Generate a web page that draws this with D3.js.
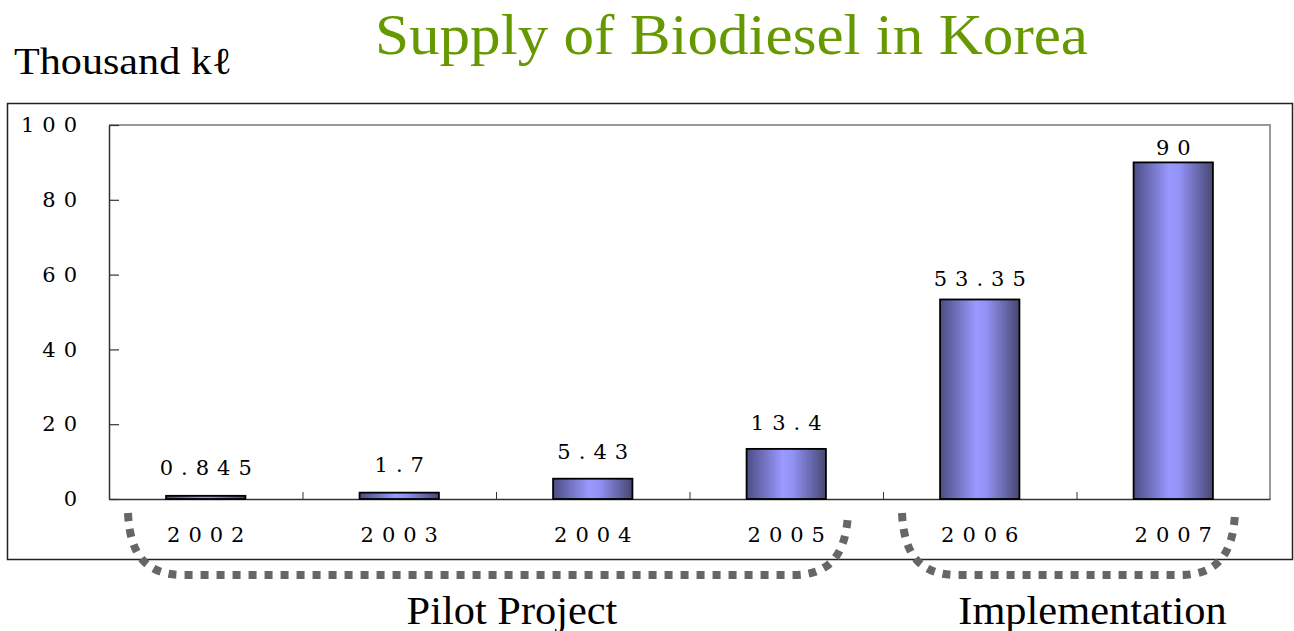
<!DOCTYPE html>
<html>
<head>
<meta charset="utf-8">
<script src="https://cdn.jsdelivr.net/npm/d3@7"></script>
<style>
  body { margin: 0; background: #fff; }
  svg { display: block; }
</style>
</head>
<body>
<script>
// data
var years = ["2002", "2003", "2004", "2005", "2006", "2007"];
var supply = [0.845, 1.7, 5.43, 13.4, 53.35, 90];
var valueLabels = ["0.845", "1.7", "5.43", "13.4", "53.35", "90"];
var yTicks = [0, 20, 40, 60, 80, 100];
var phases = [
  { name: "Pilot Project", from: "2002", to: "2005" },
  { name: "Implementation", from: "2006", to: "2007" }
];

var W = 1294, H = 631;
var plotL = 109, plotR = 1270, plotT = 125, plotB = 499;
var serif = "'Liberation Serif', 'DejaVu Serif', serif";
var numFont = "'DejaVu Serif', 'Liberation Serif', serif";
var numSize = "21px";
var ls = 8; // wide digit spacing

var svg = d3.select("body").append("svg")
  .attr("width", W)
  .attr("height", H);

// gradient for the bars
var grad = svg.append("defs").append("linearGradient")
  .attr("id", "barGrad")
  .attr("x1", "0%").attr("x2", "100%")
  .attr("y1", "0%").attr("y2", "0%");
grad.append("stop").attr("offset", "0%").attr("stop-color", "#4c4c84");
grad.append("stop").attr("offset", "45%").attr("stop-color", "#9999ff");
grad.append("stop").attr("offset", "58%").attr("stop-color", "#9292f6");
grad.append("stop").attr("offset", "100%").attr("stop-color", "#474772");

// title + unit
svg.append("text")
  .attr("x", 375).attr("y", 54)
  .attr("textLength", 713)
  .attr("lengthAdjust", "spacingAndGlyphs")
  .style("font-family", serif)
  .style("font-size", "58px")
  .attr("fill", "#669900")
  .text("Supply of Biodiesel in Korea");

svg.append("text")
  .attr("x", 14).attr("y", 74)
  .attr("textLength", 218)
  .attr("lengthAdjust", "spacingAndGlyphs")
  .style("font-family", serif)
  .style("font-size", "38px")
  .attr("fill", "#000")
  .text("Thousand k\u2113");

// outer frame
svg.append("rect")
  .attr("x", 7.5).attr("y", 103.5)
  .attr("width", 1285).attr("height", 456)
  .attr("fill", "none")
  .attr("stroke", "#222")
  .attr("stroke-width", 1.5);

// scales
var x = d3.scaleBand().domain(years).range([plotL, plotR]).padding(0);
var xb = d3.scaleLinear().domain([0, years.length]).range([plotL, plotR]);
var y = d3.scaleLinear().domain([0, 100]).range([plotB, plotT]);

// plot frame: top and right gray
svg.append("path")
  .attr("d", "M" + plotL + "," + plotT + "H" + plotR + "V" + plotB)
  .attr("fill", "none")
  .attr("stroke", "#999")
  .attr("stroke-width", 2);

// y axis
var yAxis = svg.append("g")
  .attr("transform", "translate(" + plotL + ",0)")
  .call(d3.axisLeft(y).tickValues(yTicks).tickSizeInner(-10).tickSizeOuter(0).tickPadding(32));
yAxis.select(".domain").attr("stroke", "#333").attr("stroke-width", 1.5);
yAxis.selectAll(".tick line").attr("stroke", "#333").attr("stroke-width", 1.2);
yAxis.selectAll("text")
  .style("font-family", numFont)
  .style("font-size", numSize)
  .style("letter-spacing", ls + "px")
  .attr("dx", ls)
  .attr("fill", "#000");

// x axis: boundary ticks
var xTickAxis = svg.append("g")
  .attr("transform", "translate(0," + plotB + ")")
  .call(d3.axisBottom(xb).tickValues(d3.range(1, years.length)).tickSizeInner(-7).tickSizeOuter(0).tickFormat(""));
xTickAxis.select(".domain").attr("stroke", "#333").attr("stroke-width", 1.5);
xTickAxis.selectAll(".tick line").attr("stroke", "#333");

// x axis: year labels
var xAxis = svg.append("g")
  .attr("transform", "translate(0," + plotB + ")")
  .call(d3.axisBottom(x).tickSize(0).tickPadding(28));
xAxis.select(".domain").remove();
xAxis.selectAll("text")
  .style("font-family", numFont)
  .style("font-size", numSize)
  .style("letter-spacing", ls + "px")
  .attr("dx", ls / 2)
  .attr("fill", "#000");

// bars
var barW = x.bandwidth() * 0.41;
svg.selectAll("rect.bar")
  .data(supply)
  .enter().append("rect")
  .attr("class", "bar")
  .attr("x", function (d, i) { return x(years[i]) + (x.bandwidth() - barW) / 2; })
  .attr("y", function (d) { return y(d); })
  .attr("width", barW)
  .attr("height", function (d) { return plotB - y(d); })
  .attr("fill", "url(#barGrad)")
  .attr("stroke", "#000")
  .attr("stroke-width", 1.8);

// value labels
svg.selectAll("text.val")
  .data(supply)
  .enter().append("text")
  .attr("class", "val")
  .attr("x", function (d, i) { return x(years[i]) + x.bandwidth() / 2 + ls / 2; })
  .attr("y", function (d) { return y(d) - (21 - d * 0.15); })
  .attr("text-anchor", "middle")
  .style("font-family", numFont)
  .style("font-size", numSize)
  .style("letter-spacing", ls + "px")
  .attr("fill", "#000")
  .text(function (d, i) { return valueLabels[i]; });

// phase brackets (dotted)
var bracketY = 575;
phases.forEach(function (p) {
  var x0 = x(p.from) + 19, x1 = x(p.to) + x.bandwidth() - 35;
  var top0 = 513;
  var path = "M" + x0 + "," + top0 +
    "C" + (x0 + 2) + "," + (bracketY - 18) + " " + (x0 + 20) + "," + bracketY + " " + (x0 + 55) + "," + bracketY +
    "L" + (x1 - 55) + "," + bracketY +
    "C" + (x1 - 20) + "," + bracketY + " " + (x1 - 2) + "," + (bracketY - 18) + " " + x1 + "," + top0;
  svg.append("path")
    .attr("d", path)
    .attr("fill", "none")
    .attr("stroke", "#666")
    .attr("stroke-width", 8)
    .attr("stroke-dasharray", "8,8");

  var mid = (x(p.from) + x(p.to) + x.bandwidth()) / 2;
  var label = svg.append("text")
    .attr("y", 624)
    .style("font-family", serif)
    .style("font-size", "40px")
    .attr("fill", "#000")
    .text(p.name);
  var w = label.node().getComputedTextLength() * 1.06;
  label.attr("x", mid + 16 - w / 2)
    .attr("textLength", w)
    .attr("lengthAdjust", "spacingAndGlyphs");
});
</script>
</body>
</html>
